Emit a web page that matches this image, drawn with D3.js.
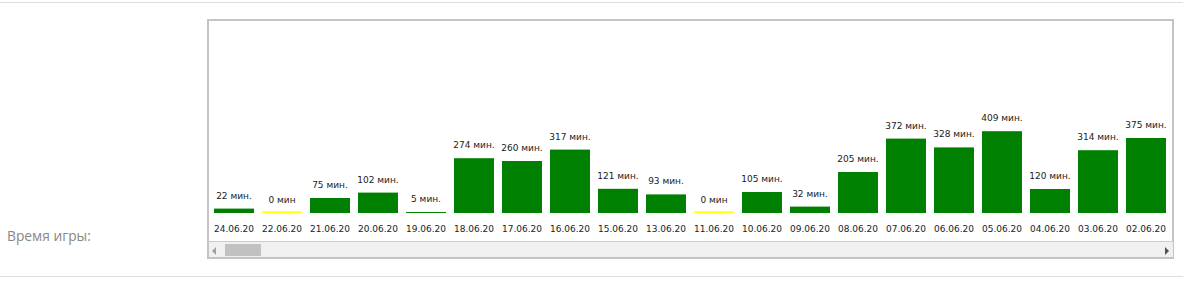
<!DOCTYPE html>
<html><head><meta charset="utf-8">
<script src="https://cdn.jsdelivr.net/npm/d3@7"></script>
<style>
html,body{margin:0;padding:0;background:#fff;}
svg{display:block;}
</style></head>
<body>
<svg id="c" width="1183" height="285"></svg>
<script>
const dates = ["24.06.20","22.06.20","21.06.20","20.06.20","19.06.20","18.06.20","17.06.20","16.06.20","15.06.20","13.06.20","11.06.20","10.06.20","09.06.20","08.06.20","07.06.20","06.06.20","05.06.20","04.06.20","03.06.20","02.06.20","01.06.20"];
const minutes = [22,0,75,102,5,274,260,317,121,93,0,105,32,205,372,328,409,120,314,375,190];
const rowLabel = "Время игры:";

const svg = d3.select("#c");
const n = dates.length;

// page separators
svg.append("line").attr("x1",0).attr("x2",1183).attr("y1",2.5).attr("y2",2.5).attr("stroke","#dedede");
svg.append("line").attr("x1",0).attr("x2",1183).attr("y1",276.5).attr("y2",276.5).attr("stroke","#dedede");

svg.append("text").attr("x",7).attr("y",241).attr("font-family","'Open Sans', sans-serif")
  .attr("font-size",13.8).attr("fill","#888").text(rowLabel);

// box
svg.append("rect").attr("x",208).attr("y",20).attr("width",965).attr("height",238)
  .attr("fill","#fff").attr("stroke","#c4c4c4").attr("stroke-width",2);

svg.append("clipPath").attr("id","clip").append("rect").attr("x",209).attr("y",21).attr("width",964).attr("height",220);

const x = d3.scaleBand().domain(dates).range([210, 210+48*n]).paddingInner(1/6).paddingOuter(1/12);
const y = d3.scaleLinear().domain([0, 950]).range([213, 23]);

const g = svg.append("g").attr("clip-path","url(#clip)");

g.selectAll("rect.bar").data(minutes).enter().append("rect")
  .attr("class","bar")
  .attr("x",(d,i)=>x(dates[i]))
  .attr("width",x.bandwidth())
  .attr("y",d=> d===0 ? y(0)-1.5 : y(d))
  .attr("height",d=> d===0 ? 1.5 : y(0)-y(d))
  .attr("fill",d=> d===0 ? "#ffff00" : "#008000");

g.selectAll("text.val").data(minutes).enter().append("text")
  .attr("class","val")
  .attr("x",(d,i)=>x(dates[i])+x.bandwidth()/2)
  .attr("y",d=>y(d)-10)
  .attr("text-anchor","middle")
  .attr("font-family","'DejaVu Sans', sans-serif").attr("font-size",9).attr("fill","#222")
  .text(d=> d===0 ? "0 мин" : d+" мин.");

g.selectAll("text.date").data(dates).enter().append("text")
  .attr("class","date")
  .attr("x",d=>x(d)+x.bandwidth()/2)
  .attr("y",232)
  .attr("text-anchor","middle")
  .attr("font-family","'DejaVu Sans', sans-serif").attr("font-size",9).attr("fill","#222")
  .text(d=>d);

// scrollbar
svg.append("rect").attr("x",209).attr("y",241).attr("width",964).attr("height",16).attr("fill","#f0f0f0");
svg.append("line").attr("x1",209).attr("x2",1173).attr("y1",241.5).attr("y2",241.5).attr("stroke","#cdcdcd");
svg.append("rect").attr("x",225).attr("y",244).attr("width",36).attr("height",12).attr("fill","#c1c1c1");
svg.append("path").attr("d","M212,251 L216,247 L216,255 Z").attr("fill","#a0a0a0");
svg.append("path").attr("d","M1169,251 L1165,247 L1165,255 Z").attr("fill","#505050");
</script>
</body></html>
